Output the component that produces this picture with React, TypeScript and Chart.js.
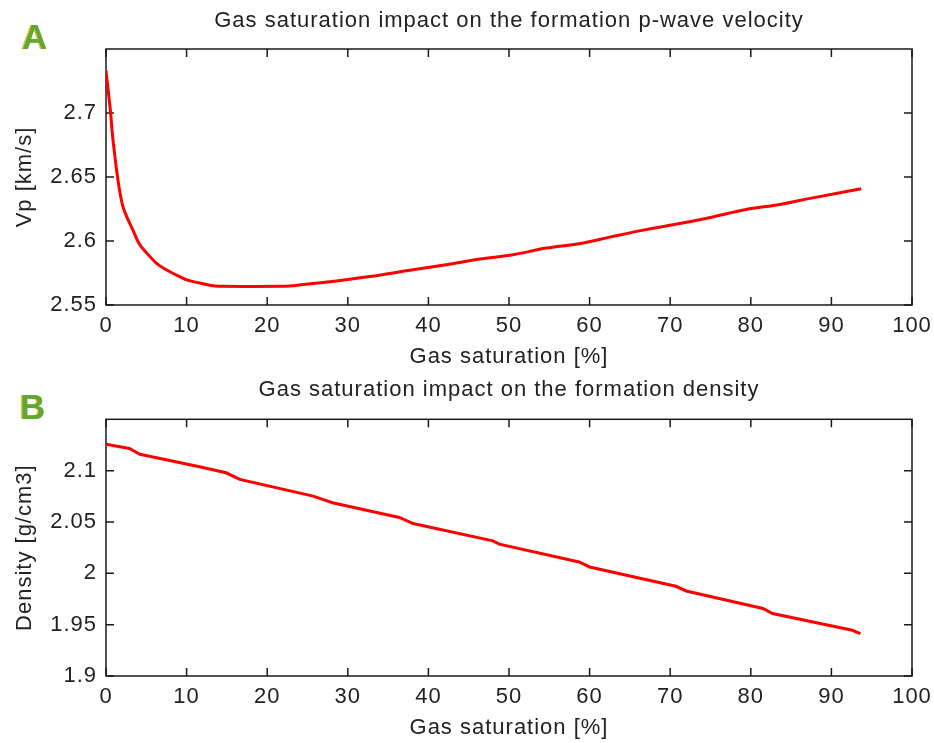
import React, { useEffect, useRef } from "react";
import { Chart, registerables } from "chart.js";

Chart.register(...registerables);

// ---- data ----
const xTicks = [0, 10, 20, 30, 40, 50, 60, 70, 80, 90, 100];

const vpTicks = [2.55, 2.6, 2.65, 2.7];
const vpSat = [0, 0.3, 0.56, 0.8, 1.05, 1.3, 1.67, 2.05, 2.5, 3.3, 4.1, 5.0, 6.2, 7.5, 8.7, 10, 11.6, 13, 14, 18, 22, 24.5, 28.6, 32.7, 38.1, 42.2, 46.4, 50.5, 54.6, 58.7, 62.9, 67, 71.2, 75.3, 79.4, 83.6, 87.7, 93.7];
const vpValues = [2.733, 2.716, 2.701, 2.683, 2.669, 2.656, 2.64, 2.628, 2.62, 2.609, 2.598, 2.591, 2.583, 2.5775, 2.5735, 2.5696, 2.5672, 2.5652, 2.5646, 2.5645, 2.5646, 2.566, 2.5688, 2.5722, 2.5775, 2.5814, 2.5859, 2.5892, 2.5945, 2.5979, 2.6036, 2.6089, 2.6136, 2.6188, 2.6246, 2.6285, 2.6337, 2.6408];

const denTicks = [1.9, 1.95, 2, 2.05, 2.1];
const denSat = [0, 2.9, 4.2, 11.6, 14.9, 16.6, 25.7, 28.1, 36.4, 38.1, 48.0, 48.8, 58.7, 60.0, 70.7, 72.0, 81.5, 82.7, 92.6, 93.6];
const denValues = [2.1258, 2.1216, 2.116, 2.1037, 2.0979, 2.0915, 2.0752, 2.0687, 2.0544, 2.0485, 2.0316, 2.0284, 2.0111, 2.0062, 1.9874, 1.9828, 1.9657, 1.9608, 1.9445, 1.9413];

const FONT = "'Liberation Sans', Arial, sans-serif";
const TEXT = "#222";

const spacingPlugin = {
  id: "spacing",
  beforeUpdate(chart: any) {
    chart.ctx.letterSpacing = "1px";
  },
  beforeDraw(chart: any) {
    chart.ctx.letterSpacing = "1px";
  },
};

const boxTicks = {
  id: "boxTicks",
  beforeDatasetsDraw(chart: any) {
    const { ctx, chartArea: a, scales } = chart;
    const x = scales.x;
    const y = scales.y;
    ctx.save();
    ctx.strokeStyle = "#1a1a1a";
    ctx.lineWidth = 1.5;
    ctx.strokeRect(a.left, a.top, a.right - a.left, a.bottom - a.top);
    const L = 8;
    ctx.beginPath();
    x.ticks.forEach((t: any) => {
      const p = x.getPixelForValue(t.value);
      ctx.moveTo(p, a.bottom);
      ctx.lineTo(p, a.bottom - L);
      ctx.moveTo(p, a.top);
      ctx.lineTo(p, a.top + L);
    });
    y.ticks.forEach((t: any) => {
      const p = y.getPixelForValue(t.value);
      ctx.moveTo(a.left, p);
      ctx.lineTo(a.left + L, p);
      ctx.moveTo(a.right, p);
      ctx.lineTo(a.right - L, p);
    });
    ctx.stroke();
    ctx.restore();
  },
};

function makeConfig(opts: {
  title: string;
  titlePad: { top: number; bottom: number };
  yTitle: string;
  xs: number[];
  ys: number[];
  yMin: number;
  yMax: number;
  yTicks: number[];
  monotone: boolean;
}): any {
  return {
    type: "line",
    data: {
      datasets: [
        {
          data: opts.xs.map((v, i) => ({ x: v, y: opts.ys[i] })),
          borderColor: "#ff0000",
          borderWidth: 3,
          pointRadius: 0,
          fill: false,
          cubicInterpolationMode: opts.monotone ? "monotone" : "default",
          tension: 0,
        },
      ],
    },
    options: {
      animation: false,
      responsive: false,
      events: [],
      layout: { padding: { left: 0, right: 22, top: 0, bottom: 2 } },
      plugins: {
        legend: { display: false },
        tooltip: { enabled: false },
        title: {
          display: true,
          fullSize: false,
          text: opts.title,
          color: TEXT,
          font: { family: FONT, size: 22, weight: "normal", lineHeight: 1.2 },
          padding: opts.titlePad,
        },
      },
      scales: {
        x: {
          type: "linear",
          min: 0,
          max: 100,
          grid: { display: false, drawTicks: false },
          border: { display: false },
          afterBuildTicks: (s: any) => {
            s.ticks = xTicks.map((v) => ({ value: v }));
          },
          afterFit: (s: any) => {
            s.height = 65;
            s.paddingLeft = 0;
            s.paddingRight = 0;
          },
          ticks: {
            color: TEXT,
            padding: 8,
            maxRotation: 0,
            autoSkip: false,
            font: { family: FONT, size: 22, lineHeight: 1.2 },
            callback: (v: any) => String(v),
          },
          title: {
            display: true,
            text: "Gas saturation [%]",
            color: TEXT,
            font: { family: FONT, size: 22, lineHeight: 1.2 },
            padding: { top: 0, bottom: 0 },
          },
        },
        y: {
          type: "linear",
          min: opts.yMin,
          max: opts.yMax,
          grid: { display: false, drawTicks: false },
          border: { display: false },
          afterBuildTicks: (s: any) => {
            s.ticks = opts.yTicks.map((v) => ({ value: v }));
          },
          afterFit: (s: any) => {
            s.width = 106;
            s.paddingTop = 0;
            s.paddingBottom = 0;
          },
          ticks: {
            color: TEXT,
            padding: 9,
            autoSkip: false,
            font: { family: FONT, size: 22, lineHeight: 1.2 },
            callback: (v: any) => String(Math.round(v * 100) / 100),
          },
          title: {
            display: true,
            text: opts.yTitle,
            color: TEXT,
            font: { family: FONT, size: 22, lineHeight: 1.2 },
            padding: { top: 12, bottom: 0 },
          },
        },
      },
    },
    plugins: [spacingPlugin, boxTicks],
  };
}

export default function App() {
  const c1 = useRef<HTMLCanvasElement | null>(null);
  const c2 = useRef<HTMLCanvasElement | null>(null);

  useEffect(() => {
    const ch1 = new Chart(
      c1.current as HTMLCanvasElement,
      makeConfig({
        title: "Gas saturation impact on the formation p-wave velocity",
        titlePad: { top: 7.5, bottom: 15.1 },
        yTitle: "Vp [km/s]",
        xs: vpSat,
        ys: vpValues,
        yMin: 2.55,
        yMax: 2.75,
        yTicks: vpTicks,
        monotone: true,
      })
    );
    const ch2 = new Chart(
      c2.current as HTMLCanvasElement,
      makeConfig({
        title: "Gas saturation impact on the formation density",
        titlePad: { top: 4.5, bottom: 16.4 },
        yTitle: "Density [g/cm3]",
        xs: denSat,
        ys: denValues,
        yMin: 1.9,
        yMax: 2.15,
        yTicks: denTicks,
        monotone: false,
      })
    );
    return () => {
      ch1.destroy();
      ch2.destroy();
    };
  }, []);

  const letter: React.CSSProperties = {
    position: "absolute",
    fontFamily: FONT,
    fontWeight: "bold",
    fontSize: 35,
    lineHeight: 1,
    color: "#64a632",
    textShadow: "-1.5px 0 0 #d9cc4a",
  };

  return (
    <div style={{ position: "absolute", left: 0, top: 0, width: 934, height: 743, background: "#fff" }}>
      <canvas ref={c1} width={934} height={372} style={{ position: "absolute", left: 0, top: 0, display: "block" }} />
      <canvas ref={c2} width={934} height={371} style={{ position: "absolute", left: 0, top: 372, display: "block" }} />
      <span style={{ ...letter, left: 22, top: 19 }}>A</span>
      <span style={{ ...letter, left: 20, top: 389 }}>B</span>
    </div>
  );
}
